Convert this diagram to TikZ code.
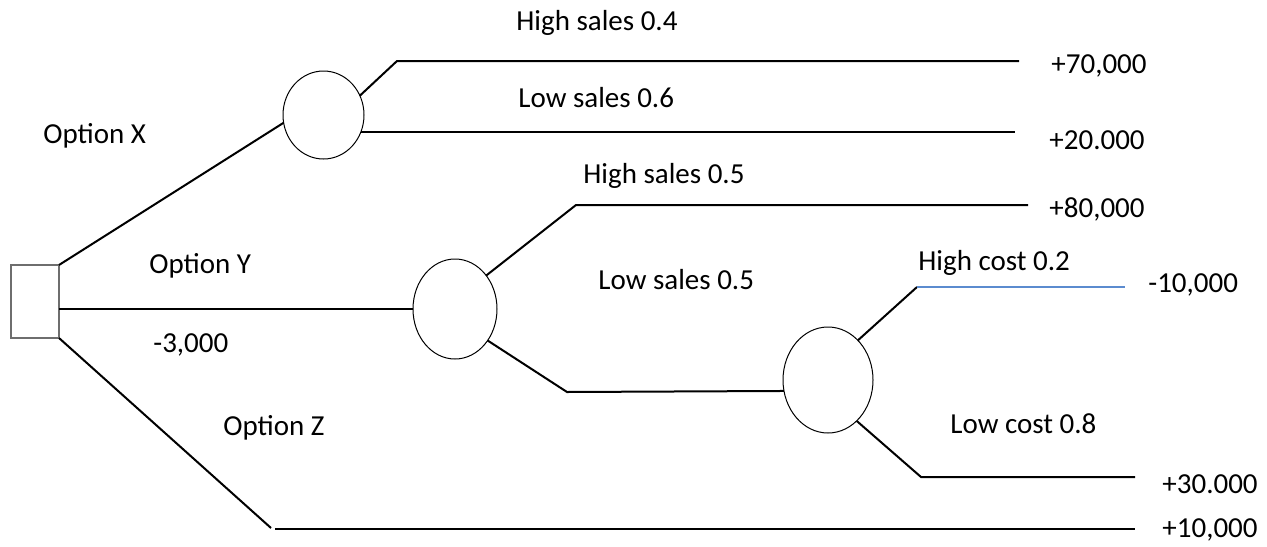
\documentclass[tikz,border=0pt]{standalone}
\usepackage{fontspec}
\setmainfont{Carlito}
\usetikzlibrary{shapes.geometric}
\begin{document}
\begin{tikzpicture}[x=0.5pt,y=-0.5pt,
  branch/.style={line width=1pt,black},
  blueline/.style={line width=0.75pt,color={rgb,255:red,91;green,139;blue,207}},
  chance/.style={ellipse,draw,line width=0.5pt,inner sep=0pt,outer sep=0pt},
  decision/.style={rectangle,draw={rgb,255:red,110;green,110;blue,110},line width=0.7pt,inner sep=0pt,outer sep=0pt,minimum width=24pt,minimum height=36.5pt},
  lbl/.style={anchor=base west,inner sep=0pt,font=\fontsize{14.5}{17}\selectfont}]
\useasboundingbox (0,0) rectangle (1267,546);
% nodes
\node[decision] (sq) at (35,301.5) {};
\node[chance,minimum width=40.5pt,minimum height=44pt] (cX) at (323.5,115) {};
\node[chance,minimum width=42pt,minimum height=50pt] (cY) at (455,309) {};
\node[chance,minimum width=45pt,minimum height=53pt] (cZ) at (828,380) {};
% coordinates
\coordinate (xa) at (397,61);
\coordinate (xaE) at (1019,61);
\coordinate (xbE) at (1015,133);
\coordinate (ya) at (576,205);
\coordinate (yaE) at (1028,205);
\coordinate (yb) at (567,392);
\coordinate (za) at (917,287);
\coordinate (zaE) at (1125,287);
\coordinate (zb) at (921,477);
\coordinate (zbE) at (1135,477);
\coordinate (oz) at (271,528);
\coordinate (ozS) at (275,529);
\coordinate (ozE) at (1135,529);
% connectors
\draw[branch] (sq.north east) -- (cX.191);
\draw[branch] (cX.28) -- (xa) -- (xaE);
\draw[branch] (cX.335) -- (cX.335 -| xbE);
\draw[branch] (sq.east |- cY.west) -- (cY.west);
\draw[branch] (cY.47) -- (ya) -- (yaE);
\draw[branch] (cY.316) -- (yb) -- (cZ.194);
\draw[branch] (cZ.53) -- (za);
\draw[blueline] (za) -- (zaE);
\draw[branch] (cZ.305) -- (zb) -- (zbE);
\draw[branch] (sq.south east) -- (oz);
\draw[branch] (ozS) -- (ozE);
% labels
\node[lbl] (tOX) at (43,143) {Option X};
\node[lbl] (tHS4) at (516,30) {High sales 0.4};
\node[lbl] (tLS6) at (518,107) {Low sales 0.6};
\node[lbl] (tHS5) at (583,183) {High sales 0.5};
\node[lbl] (t70) at (1051,73) {+70,000};
\node[lbl] (t20) at (1049,149) {+20.000};
\node[lbl] (t80) at (1049,217) {+80,000};
\node[lbl] (tOY) at (149,273) {Option Y};
\node[lbl] (t3) at (153,352) {-3,000};
\node[lbl] (tOZ) at (223,435) {Option Z};
\node[lbl] (tLS5) at (598,289) {Low sales 0.5};
\node[lbl] (tHC) at (918,270) {High cost 0.2};
\node[lbl] (t10n) at (1148,292) {-10,000};
\node[lbl] (tLC) at (950,433) {Low cost 0.8};
\node[lbl] (t30) at (1162,493) {+30.000};
\node[lbl] (t10) at (1162,537) {+10,000};
\end{tikzpicture}
\end{document}
